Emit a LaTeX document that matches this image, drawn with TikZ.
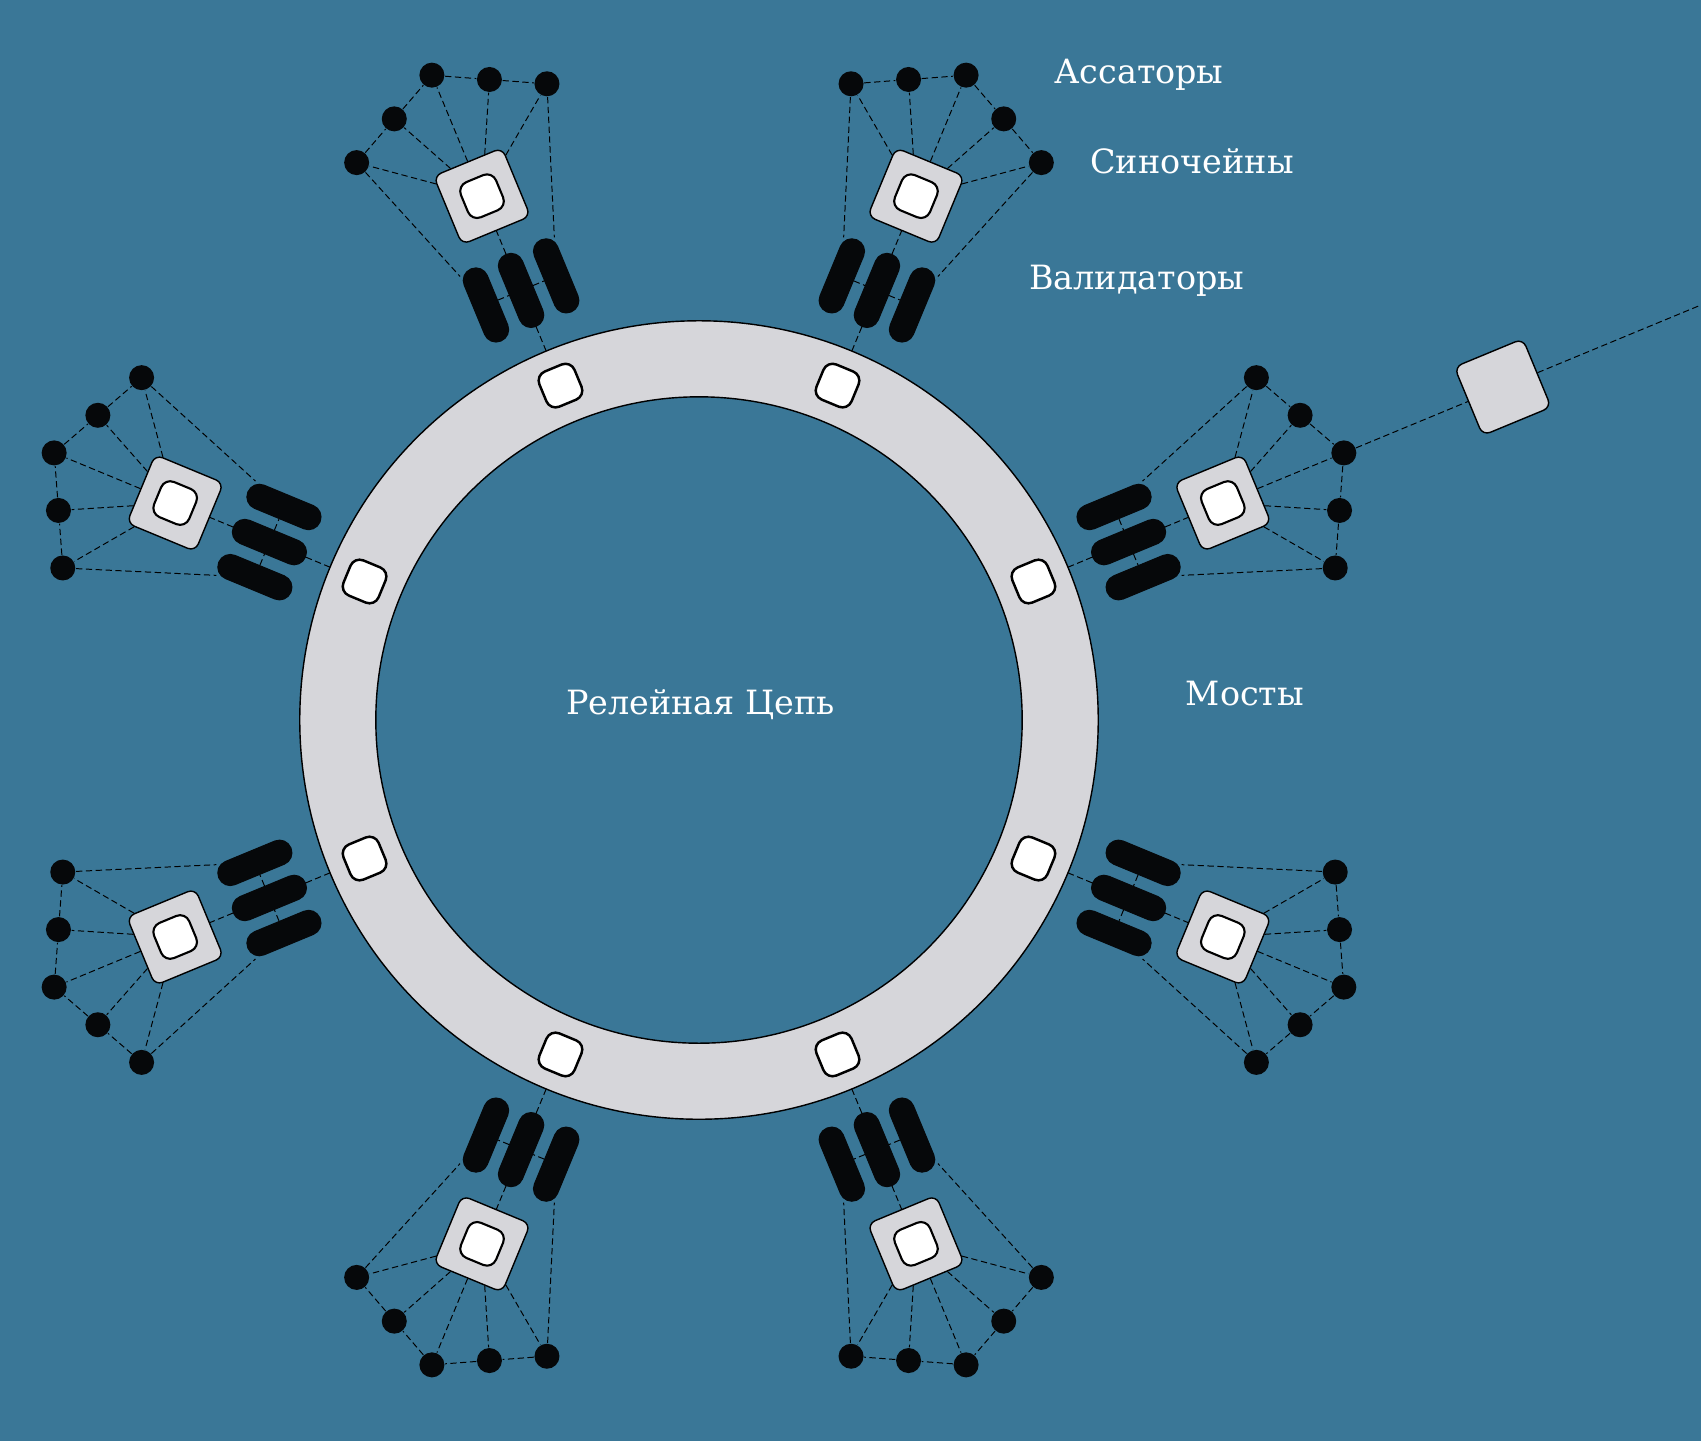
\documentclass[tikz,border=0pt]{standalone}
\usepackage{fontspec}
\setmainfont{DejaVu Serif}
\definecolor{bg}{RGB}{58,119,151}
\definecolor{ringgrey}{RGB}{214,214,218}
\definecolor{barblack}{RGB}{6,8,10}
\tikzset{
 conn/.style={draw=black, line width=0.28pt, dash pattern=on 1.8pt off 1pt},
 ringsq/.style={draw=black, line width=0.7pt, fill=white, rectangle, rounded corners=2.8pt, minimum size=0.38cm, inner sep=0pt, transform shape},
 valbar/.style={fill=barblack, draw=barblack, line width=0.3pt, rectangle, rounded corners=3.5pt, minimum width=0.78cm, minimum height=0.25cm, inner sep=0pt, transform shape},
 collsq/.style={draw=black, line width=0.4pt, fill=ringgrey, rectangle, rounded corners=2.3pt, minimum size=0.74cm, inner sep=0pt, transform shape},
 innersq/.style={draw=black, line width=0.6pt, fill=white, rectangle, rounded corners=2.8pt, minimum size=0.38cm, inner sep=0pt, transform shape},
 colldot/.style={fill=barblack, circle, minimum size=0.25cm, inner sep=0pt},
 lbl/.style={text=white, font=\fontsize{9.5}{11}\selectfont, anchor=base, inner sep=0pt}
}
\newcommand\parachain[2]{%
\begin{scope}[rotate=#1]
 \coordinate (#2e) at (399,0);
 \node[ringsq] (#2r) at (362,0) {};
 \node[valbar] (#2b1) at (465,38) {};
 \node[valbar] (#2b2) at (465,0) {};
 \node[valbar] (#2b3) at (465,-38) {};
 \node[collsq] (#2s) at (567,0) {};
 \node[innersq] (#2w) at (567,0) {};
 \node[colldot] (#2d1) at (646,103) {};
 \node[colldot] (#2d2) at (672,51.5) {};
 \node[colldot] (#2d3) at (698,0) {};
 \node[colldot] (#2d4) at (672,-51.5) {};
 \node[colldot] (#2d5) at (646,-103) {};
 \draw[conn] (#2b2) -- (#2e);
 \draw[conn] (#2b1) -- (#2b2);
 \draw[conn] (#2b2) -- (#2b3);
 \draw[conn] (#2b2) -- (#2s);
 \foreach \k in {1,...,5} {\draw[conn] (#2s) -- (#2d\k);}
 \draw[conn] (#2d1) -- (#2d2) -- (#2d3) -- (#2d4) -- (#2d5);
 \draw[conn] (#2d1) -- (#2b1);
 \draw[conn] (#2d5) -- (#2b3);
\end{scope}}
\begin{document}
\begin{tikzpicture}[x=0.01cm,y=0.01cm]
\useasboundingbox (-699,-721) rectangle (1002,720);
\fill[bg] (-699,-721) rectangle (1002,720);
\clip (-699,-721) rectangle (1002,720);
\draw[line width=0.4pt, fill=ringgrey, even odd rule] (0,0) circle (3.99cm) (0,0) circle (3.23cm);
\parachain{22.5}{ma}
\parachain{67.5}{mb}
\parachain{112.5}{mc}
\parachain{157.5}{md}
\parachain{202.5}{me}
\parachain{247.5}{mf}
\parachain{292.5}{mg}
\parachain{337.5}{mh}
\begin{scope}[rotate=22.5]
 \node[collsq] (bridge) at (870,0) {};
 \coordinate (far) at (1150,0);
\end{scope}
\draw[conn] (mad3) -- (bridge);
\draw[conn] (bridge) -- (far);
\node[lbl] (tcoll) at (440,636.7) {Ассаторы};
\node[lbl] (tpara) at (493,546.7) {Синочейны};
\node[lbl] (tval) at (437.6,431) {Валидаторы};
\node[lbl] (tbridge) at (546,15) {Мосты};
\node[lbl] (trelay) at (1.5,6) {Релейная Цепь};
\end{tikzpicture}
\end{document}
